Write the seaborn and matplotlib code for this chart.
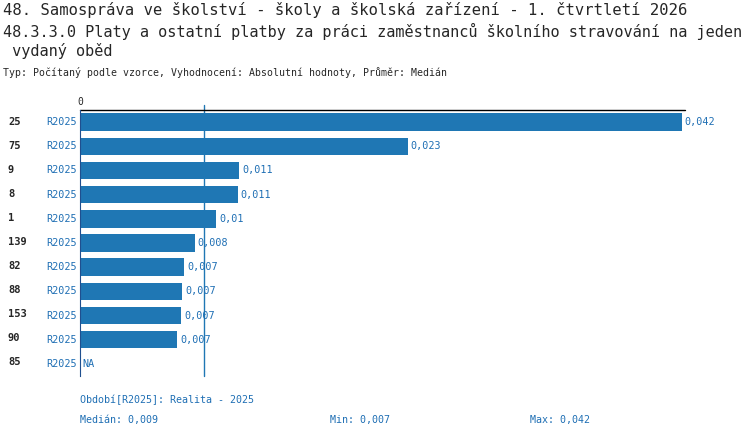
import numpy as np
import pandas as pd
import matplotlib
matplotlib.use("Agg")
import matplotlib.pyplot as plt
import seaborn as sns

ids = ["25", "75", "9", "8", "1", "139", "82", "88", "153", "90", "85"]
values = [0.04196, 0.02285, 0.0111, 0.011, 0.0095, 0.008, 0.00727, 0.00713, 0.00706, 0.00678, np.nan]
labels = ["0,042", "0,023", "0,011", "0,011", "0,01", "0,008", "0,007", "0,007", "0,007", "0,007", "NA"]
median = 0.00867

blue = "#1f77b4"
txtblue = "#1f6fb4"
sns.set_style("white")
plt.rcParams['font.family'] = ['DejaVu Sans Mono']

df = pd.DataFrame({"id": ids, "v": values})
fig = plt.figure(figsize=(7.5, 4.38), dpi=100)
W, H = 750, 438
ax = fig.add_axes([80 / W, 1 - 376 / H, 605 / W, (376 - 110) / H])
sns.barplot(data=df, x="v", y="id", color=blue, saturation=1, width=0.72, ax=ax,
            orient="h", edgecolor="none", linewidth=0)
ax.set_xlim(0, 0.0422)
ax.set_ylim(len(ids) - 0.5, -0.5)
for s in ["top", "right", "bottom"]:
    ax.spines[s].set_visible(False)
ax.spines["left"].set_color("#1f4f8f")
ax.set_xticks([]); ax.set_yticks([])
ax.set_xlabel(""); ax.set_ylabel("")
ax.axvline(median, color=blue, lw=1, ymax=1.02, clip_on=False)
ax.plot([0, 0.0422], [-0.5, -0.5], color="black", lw=1, clip_on=False)
ax.text(0, -0.62, "0", fontsize=7, ha="center", va="bottom")
for i, (v, lab) in enumerate(zip(values, labels)):
    x = 0 if np.isnan(v) else v
    ax.text(x + 0.0002, i, lab, color=txtblue, fontsize=7.3, va="center")
    ax.text(-0.0002, i, "R2025", color=txtblue, fontsize=7.3, va="center", ha="right")
    fig.text(8 / W, 1 - (122 + 24 * i) / H, ids[i], fontsize=7.5, fontweight="bold", va="center")

fig.text(3 / W, 1 - 10 / H, "48. Samospráva ve školství - školy a školská zařízení - 1. čtvrtletí 2026", fontsize=11.2, va="center")
fig.text(3 / W, 1 - 31 / H, "48.3.3.0 Platy a ostatní platby za práci zaměstnanců školního stravování na jeden", fontsize=11, va="center")
fig.text(3 / W, 1 - 51 / H, " vydaný oběd", fontsize=11, va="center")
fig.text(3 / W, 1 - 73 / H, "Typ: Počítaný podle vzorce, Vyhodnocení: Absolutní hodnoty, Průměr: Medián", fontsize=7.1, va="center")
fig.text(80 / W, 1 - 400 / H, "Období[R2025]: Realita - 2025", fontsize=7.2, color=txtblue, va="center")
fig.text(80 / W, 1 - 420 / H, "Medián: 0,009", fontsize=7.2, color=txtblue, va="center")
fig.text(330 / W, 1 - 420 / H, "Min: 0,007", fontsize=7.2, color=txtblue, va="center")
fig.text(530 / W, 1 - 420 / H, "Max: 0,042", fontsize=7.2, color=txtblue, va="center")
fig.savefig("out.png", dpi=100)
